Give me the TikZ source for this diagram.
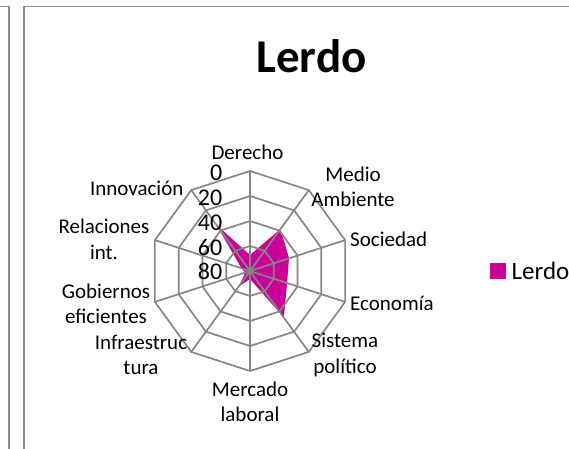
\documentclass[tikz,border=0pt]{standalone}
\usepackage{fontspec}
\setmainfont{Carlito}
\usetikzlibrary{calc}
\definecolor{gridgray}{RGB}{134,134,134}
\definecolor{mag}{RGB}{204,0,153}
\definecolor{framegray}{RGB}{140,140,140}
\begin{document}
\begin{tikzpicture}[x=1pt,y=-1pt,
  gridline/.style={draw=gridgray,line width=1.7pt,line join=miter},
  lbl/.style={font=\fontsize{21}{25.5}\selectfont,align=center,inner sep=0pt},
  num/.style={font=\fontsize{24}{28}\selectfont,anchor=east,inner sep=0pt},
  frameline/.style={draw=framegray,line width=1.6pt}]
\useasboundingbox (0,0) rectangle (569,448);
\coordinate (c) at (250,271);
% frames
\coordinate (f1a) at (0,6.3);
\coordinate (f1b) at (9,6.3);
\coordinate (f1c) at (9,452);
\draw[frameline] (f1a) -- (f1b) -- (f1c);
\coordinate (f2a) at (23.7,452);
\coordinate (f2b) at (23.7,6.3);
\coordinate (f2c) at (575,6.3);
\draw[frameline] (f2a) -- (f2b) -- (f2c);
% data
\foreach \r [count=\i from 0] in {16,52,41,39,57.5,8,19,5,9,57}
  \coordinate (d\i) at ($(c)+({90-36*\i}:\r pt)$);
\fill[mag] (d0) -- (d1) -- (d2) -- (d3) -- (d4) -- (d5) -- (d6) -- (d7) -- (d8) -- (d9) -- cycle;
% grid rings
\foreach \r in {25,50,75,100}
  \draw[gridline] ($(c)+(90:\r pt)$) \foreach \k in {1,...,9} { -- ($(c)+({90-36*\k}:\r pt)$) } -- cycle;
% spokes
\foreach \k in {0,...,9} {
  \coordinate (o\k) at ($(c)+({90-36*\k}:100pt)$);
  \draw[gridline] (c) -- (o\k);
}
% axis numbers
\node[num] (n0) at (222.5,172.5) {0};
\node[num] (n20) at (222.5,197.5) {20};
\node[num] (n40) at (222.5,222.5) {40};
\node[num] (n60) at (222.5,247) {60};
\node[num] (n80) at (222.5,271.5) {80};
% labels
\node[lbl] (lDer) at (247.5,152) {Derecho};
\node[lbl] (lMed) at (353,187) {Medio\\Ambiente};
\node[lbl,anchor=west] (lSoc) at (350,239) {Sociedad};
\node[lbl,anchor=west] (lEco) at (350,303) {Economía};
\node[lbl] (lSis) at (345,355) {Sistema\\político};
\node[lbl] (lMer) at (250,402) {Mercado\\laboral};
\node[lbl] (lInf) at (141,355) {Infraestruc\\tura};
\node[lbl] (lGob) at (106,304) {Gobiernos\\eficientes};
\node[lbl] (lRel) at (104,239.5) {Relaciones\\int.};
\node[lbl] (lInn) at (136.7,188) {Innovación};
% title
\node[font=\fontsize{47}{50}\selectfont\bfseries,anchor=base,inner sep=0pt] (title) at (311.5,72) {Lerdo};
% legend
\node[fill=mag,minimum size=16pt,inner sep=0pt] (legsq) at (498,270.5) {};
\node[font=\fontsize{25}{28}\selectfont,anchor=west,inner sep=0pt] (legtx) at (511.5,270.5) {Lerdo};
\end{tikzpicture}
\end{document}
